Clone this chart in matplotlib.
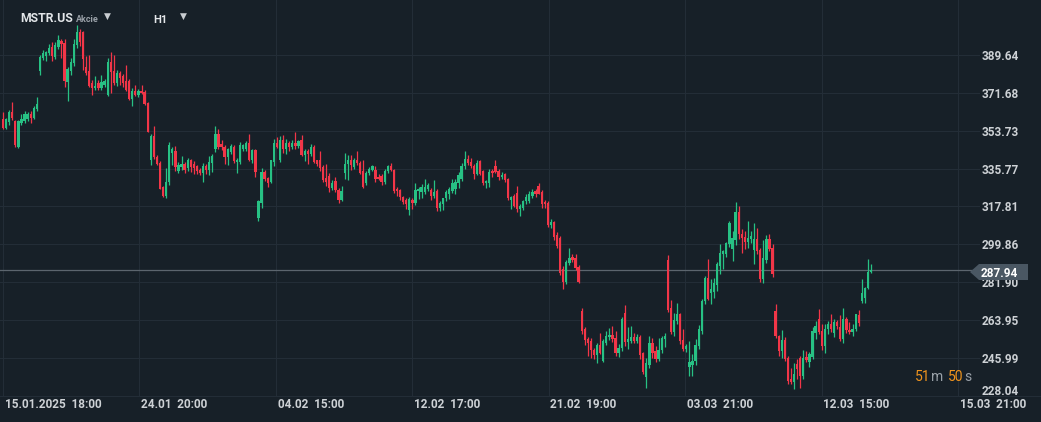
import numpy as np
import matplotlib
matplotlib.use('Agg')
import matplotlib.pyplot as plt
from matplotlib.patches import Polygon
from matplotlib.lines import Line2D

plt.rcParams['font.family'] = ['Roboto', 'DejaVu Sans']

# MSTR.US, H1 svicky (priblizne)
opens = [
    359.4, 355.1, 358.0, 362.7, 358.4, 345.8, 357.5, 358.4, 359.4, 361.7,
    359.9, 364.1, 382.1, 388.2, 389.2, 390.5, 393.3, 388.7, 393.3, 396.3,
    395.3, 376.9, 382.1, 385.8, 394.3, 400.5, 400.5, 384.0, 382.1, 376.4,
    374.0, 376.4, 374.0, 375.5, 370.7, 386.3, 382.1, 376.4, 381.1, 379.7,
    377.4, 377.4, 368.8, 372.6, 370.7, 372.6, 372.1, 367.0, 340.0, 351.0,
    341.4, 338.6, 326.8, 322.6, 329.2, 343.3, 344.3, 334.5, 336.3, 337.7,
    335.8, 339.6, 338.0, 336.8, 335.0, 333.5, 336.9, 335.3, 338.4, 344.8,
    352.3, 347.6, 346.2, 341.4, 343.8, 346.2, 339.0, 339.0, 345.0, 344.8,
    348.0, 340.0, 344.4, 312.5, 319.5, 334.0, 331.5, 329.3, 338.8, 348.0,
    340.0, 349.1, 344.8, 348.0, 346.0, 348.0, 346.5, 349.1, 342.3, 344.3,
    342.8, 346.2, 339.6, 339.6, 336.5, 331.2, 332.1, 326.6, 330.0, 325.8,
    321.1, 333.7, 337.8, 339.6, 336.6, 340.0, 338.6, 334.5, 329.0, 333.5,
    335.3, 335.3, 332.0, 332.1, 329.3, 334.5, 336.8, 335.0, 326.2, 325.7,
    322.1, 321.1, 315.9, 321.0, 319.6, 325.0, 324.8, 324.6, 326.0, 325.4,
    323.0, 325.0, 317.2, 318.8, 321.8, 323.8, 325.0, 326.3, 329.1, 331.0,
    336.8, 340.5, 339.0, 337.0, 333.4, 339.2, 334.5, 329.0, 329.0, 334.5,
    337.2, 334.8, 331.8, 333.0, 330.9, 320.8, 322.7, 324.0, 316.8, 317.2,
    320.3, 320.3, 323.0, 325.0, 327.7, 324.6, 320.0, 319.5, 309.0, 310.4,
    304.1, 303.0, 288.4, 282.0, 291.2, 293.8, 293.2, 289.3, 268.1, 259.7,
    255.0, 254.2, 250.0, 247.5, 252.1, 244.7, 253.1, 256.0, 257.0, 255.3,
    248.6, 251.0, 267.3, 253.7, 254.2, 256.0, 254.2, 256.1, 248.4, 237.2,
    242.8, 253.0, 249.5, 245.5, 249.7, 255.0, 292.3, 269.6, 258.2, 263.5,
    266.8, 254.5, 250.3, 241.6, 242.5, 244.7, 251.8, 258.9, 272.8, 284.1,
    277.0, 277.5, 280.5, 289.6, 295.5, 295.1, 299.9, 297.8, 301.8, 315.1,
    304.6, 303.5, 301.0, 302.5, 297.0, 302.5, 297.0, 283.3, 292.4, 302.2,
    298.3, 268.1, 256.5, 249.5, 254.5, 245.9, 236.2, 234.5, 243.0, 245.9,
    237.4, 246.5, 244.0, 246.6, 258.0, 264.4, 258.9, 251.8, 260.0, 262.0,
    258.1, 263.2, 260.9, 255.0, 264.4, 259.5, 258.5, 260.0, 266.3, 273.1,
    274.3, 279.0, 287.0,
]
highs = [
    362.7, 359.9, 363.5, 367.4, 359.0, 358.8, 361.5, 362.9, 362.5, 363.1,
    365.5, 369.6, 389.5, 392.0, 391.5, 394.6, 395.6, 395.5, 399.0, 397.3,
    397.0, 384.0, 388.0, 397.0, 403.8, 402.0, 401.0, 389.0, 389.6, 377.5,
    379.5, 377.5, 380.0, 378.0, 388.0, 391.0, 389.6, 382.5, 382.0, 380.5,
    385.0, 378.0, 374.0, 375.5, 373.5, 375.5, 373.0, 367.5, 352.0, 356.1,
    342.0, 339.5, 327.5, 335.8, 348.5, 346.0, 346.5, 339.0, 341.5, 339.0,
    341.0, 340.5, 339.5, 337.5, 336.0, 338.5, 338.0, 341.5, 342.5, 356.0,
    354.7, 349.5, 347.0, 345.5, 347.5, 347.0, 341.0, 348.5, 347.5, 349.0,
    352.3, 345.0, 345.0, 321.0, 336.0, 335.0, 332.0, 340.0, 350.0, 350.5,
    351.0, 351.5, 350.0, 349.0, 349.5, 353.1, 349.5, 351.8, 345.0, 345.0,
    347.5, 347.0, 340.0, 344.0, 337.5, 338.0, 333.5, 330.5, 332.0, 326.5,
    327.4, 343.2, 342.4, 342.4, 341.0, 344.0, 339.5, 340.0, 334.5, 336.5,
    337.5, 337.0, 333.0, 333.0, 335.5, 337.5, 338.5, 335.5, 327.0, 326.0,
    323.0, 322.0, 322.5, 322.0, 329.0, 327.0, 328.5, 330.6, 329.0, 326.5,
    330.2, 326.0, 320.5, 322.0, 325.5, 327.0, 331.0, 331.0, 334.0, 338.5,
    344.3, 342.0, 341.0, 338.0, 340.0, 340.0, 335.0, 330.5, 335.5, 335.5,
    339.6, 335.5, 334.0, 333.5, 331.5, 323.0, 323.5, 327.4, 319.0, 321.0,
    323.5, 325.0, 326.0, 326.0, 329.0, 325.5, 321.0, 320.5, 312.1, 311.0,
    305.5, 304.0, 289.5, 292.5, 298.0, 295.5, 295.1, 290.0, 269.6, 260.5,
    256.0, 255.5, 251.0, 253.0, 258.0, 255.0, 259.0, 260.2, 261.0, 258.9,
    252.5, 265.5, 271.0, 260.5, 261.0, 258.0, 257.5, 257.0, 249.0, 246.0,
    256.5, 255.5, 251.5, 255.4, 256.5, 257.7, 294.8, 273.5, 267.3, 272.0,
    267.5, 259.7, 252.5, 254.2, 247.9, 255.0, 261.6, 274.0, 285.0, 292.8,
    283.3, 284.0, 291.5, 299.9, 297.0, 301.0, 310.9, 306.0, 320.0, 318.0,
    307.0, 306.0, 311.0, 306.0, 309.8, 307.4, 298.0, 301.9, 304.3, 304.6,
    300.0, 271.5, 257.0, 259.2, 255.8, 247.0, 241.1, 243.6, 245.5, 247.0,
    249.8, 249.2, 249.0, 260.5, 263.5, 269.1, 262.0, 262.0, 263.6, 266.8,
    264.7, 264.0, 266.3, 269.9, 265.5, 263.1, 262.0, 267.0, 268.7, 283.3,
    279.5, 292.8, 290.5,
]
lows = [
    354.5, 354.6, 356.5, 358.9, 346.2, 345.5, 356.3, 357.5, 358.5, 357.2,
    359.2, 363.2, 379.9, 387.0, 386.5, 389.6, 386.6, 387.5, 392.3, 388.0,
    374.6, 367.6, 380.0, 384.2, 393.0, 394.0, 382.5, 380.0, 374.5, 370.7,
    373.0, 373.0, 373.0, 374.5, 370.3, 371.7, 375.5, 375.0, 375.5, 374.5,
    372.5, 368.0, 365.2, 370.0, 369.5, 371.0, 366.0, 353.0, 337.3, 340.5,
    337.5, 326.0, 322.3, 322.0, 328.0, 337.5, 334.5, 333.5, 335.0, 333.5,
    334.5, 334.0, 333.0, 333.0, 332.5, 329.5, 333.0, 332.5, 334.0, 343.5,
    345.0, 344.5, 337.7, 337.5, 342.5, 338.5, 333.7, 338.0, 344.0, 344.0,
    339.5, 338.5, 331.7, 310.9, 317.0, 330.0, 327.0, 329.0, 337.0, 345.5,
    339.0, 343.0, 342.5, 344.0, 345.0, 345.0, 345.5, 341.5, 339.5, 338.0,
    341.5, 338.5, 337.0, 334.5, 329.5, 327.5, 324.5, 325.5, 324.5, 319.5,
    320.5, 330.6, 330.5, 335.0, 335.5, 337.5, 333.0, 326.5, 328.0, 332.5,
    334.5, 329.5, 330.5, 328.0, 328.5, 333.5, 334.5, 324.0, 323.0, 321.0,
    319.0, 316.4, 313.6, 316.5, 318.5, 321.5, 322.0, 323.5, 325.0, 321.0,
    322.0, 315.5, 315.5, 316.0, 320.5, 321.5, 324.0, 323.5, 326.5, 330.0,
    335.5, 337.5, 336.0, 331.0, 332.5, 332.5, 328.0, 326.5, 327.0, 332.0,
    333.5, 330.5, 331.0, 329.5, 321.0, 316.5, 317.5, 315.0, 313.5, 316.0,
    319.0, 319.5, 322.0, 322.5, 323.5, 317.3, 317.0, 308.0, 307.5, 302.0,
    298.0, 285.5, 278.6, 281.0, 290.0, 291.5, 287.5, 281.5, 257.5, 252.0,
    247.1, 246.0, 245.5, 243.6, 248.0, 244.0, 252.0, 254.5, 253.5, 247.0,
    246.5, 249.5, 251.5, 250.5, 253.0, 253.0, 253.0, 245.5, 238.5, 231.8,
    241.5, 246.0, 244.0, 244.5, 248.5, 251.2, 268.0, 257.5, 256.5, 262.0,
    252.5, 249.5, 248.8, 237.4, 237.5, 242.5, 250.5, 257.5, 271.5, 273.5,
    271.5, 274.5, 278.0, 286.0, 288.0, 294.0, 298.5, 292.0, 299.5, 302.5,
    296.0, 297.5, 298.0, 300.5, 290.4, 295.5, 281.8, 281.5, 291.0, 296.5,
    284.5, 255.5, 247.1, 246.0, 244.5, 233.7, 233.5, 231.3, 236.0, 231.7,
    236.0, 244.0, 242.0, 245.5, 255.0, 257.5, 249.9, 248.2, 257.5, 258.5,
    256.0, 260.0, 254.0, 253.1, 258.0, 257.5, 256.5, 259.0, 261.0, 272.3,
    272.0, 278.5, 286.5,
]
closes = [
    355.1, 359.4, 362.7, 359.9, 347.1, 358.4, 359.4, 361.7, 361.7, 359.9,
    364.6, 366.5, 388.7, 390.5, 390.8, 392.9, 389.2, 394.3, 396.7, 394.8,
    377.4, 383.0, 386.3, 394.8, 400.5, 395.8, 387.7, 381.1, 375.0, 374.0,
    375.0, 374.0, 376.9, 377.0, 386.3, 381.6, 376.4, 381.1, 378.7, 376.4,
    373.1, 368.8, 372.6, 370.7, 372.6, 371.6, 366.5, 353.3, 351.0, 341.4,
    338.1, 326.3, 322.6, 329.6, 347.1, 344.8, 336.3, 337.3, 337.8, 335.3,
    339.6, 336.3, 335.8, 334.5, 333.5, 336.9, 335.3, 338.9, 341.6, 352.3,
    346.2, 345.8, 341.4, 344.8, 346.6, 339.2, 340.0, 346.8, 346.8, 348.0,
    340.0, 344.4, 334.0, 320.3, 334.0, 330.9, 328.8, 339.6, 348.0, 346.2,
    349.1, 344.8, 348.0, 346.0, 348.0, 346.5, 348.6, 342.3, 344.3, 342.8,
    346.0, 338.9, 338.1, 336.1, 330.2, 329.5, 326.6, 329.1, 325.5, 321.1,
    325.0, 338.1, 339.6, 337.3, 340.0, 338.5, 333.7, 327.0, 333.5, 335.5,
    336.8, 331.0, 331.0, 329.3, 334.5, 336.8, 335.3, 325.2, 325.2, 322.3,
    320.0, 318.8, 321.4, 319.6, 325.4, 326.0, 326.8, 327.0, 327.8, 323.0,
    324.5, 317.2, 319.6, 321.8, 324.8, 326.3, 328.8, 329.5, 332.5, 337.2,
    340.5, 338.5, 336.8, 333.4, 338.5, 333.4, 329.0, 330.0, 334.0, 333.5,
    334.0, 331.8, 332.5, 330.3, 321.6, 322.5, 318.0, 316.8, 318.0, 320.3,
    322.2, 323.5, 324.5, 323.5, 323.9, 318.8, 318.8, 309.0, 310.5, 303.3,
    299.1, 286.5, 282.1, 291.7, 293.2, 292.3, 288.5, 282.1, 258.6, 254.6,
    253.0, 249.8, 247.5, 252.1, 248.6, 254.2, 256.6, 257.0, 255.0, 248.4,
    251.0, 264.4, 253.7, 255.0, 256.0, 254.2, 256.0, 247.4, 239.2, 243.6,
    253.1, 248.6, 245.5, 250.0, 255.6, 256.6, 268.8, 258.2, 264.1, 267.0,
    254.2, 250.3, 251.5, 244.3, 244.5, 252.1, 259.7, 272.8, 284.1, 273.9,
    278.6, 281.6, 290.4, 295.6, 296.5, 300.3, 309.8, 303.0, 315.3, 304.6,
    302.7, 301.0, 303.0, 304.0, 302.5, 296.7, 283.3, 293.2, 302.2, 297.5,
    285.7, 256.3, 249.5, 254.5, 245.5, 235.3, 234.9, 238.4, 241.0, 237.4,
    245.9, 245.0, 247.9, 258.6, 261.3, 258.4, 251.8, 259.7, 262.0, 259.7,
    263.2, 261.1, 255.0, 264.4, 259.4, 258.5, 260.0, 266.8, 262.8, 276.7,
    279.1, 287.0, 287.94,
]

last_price = 287.94
y_ticks = [228.04, 245.99, 263.95, 281.90, 299.86, 317.81, 335.77, 353.73, 371.68, 389.64]
x_labels = ['15.01.2025  18:00', '24.01  20:00', '04.02  15:00', '12.02  17:00',
            '21.02  19:00', '03.03  21:00', '12.03  15:00', '15.03  21:00']
x_label_pos = [0, 44.3, 88.7, 133.0, 177.3, 221.7, 266.0, 310.3]

bg = '#172028'
grid_c = '#232d37'
up_c = '#27c184'
down_c = '#f23648'
txt_c = '#cdd1d5'

o = np.array(opens)
h = np.array(highs)
l = np.array(lows)
c = np.array(closes)
idx = np.arange(len(c))
up = c >= o
cols = np.where(up, up_c, down_c)

W, H = 1041, 422
fig = plt.figure(figsize=(W / 100, H / 100), dpi=100, facecolor=bg)
ax = fig.add_axes([0, 26 / H, 980 / W, 396 / H])
ax.set_facecolor(bg)

# svicky
ax.vlines(idx, l, h, colors=cols, lw=0.9, zorder=3)
body = np.maximum(np.abs(c - o), 0.3)
ax.bar(idx, body, bottom=np.minimum(o, c), width=0.74, color=cols, linewidth=0, zorder=4)

ax.set_xlim(-0.97, 317.4)
ax.set_ylim(228.5, 415.6)
ax.set_yticks(y_ticks)
ax.set_xticks(x_label_pos)
ax.grid(True, color=grid_c, lw=0.8)
ax.tick_params(length=0, labelleft=False, labelbottom=False)
for s in ax.spines.values():
    s.set_visible(False)

# popisky osy x
for p, lab in zip(x_label_pos, x_labels):
    ax.text(p + 0.5, -8 / 396, lab, transform=ax.get_xaxis_transform(),
            ha='left', va='center', color=txt_c, fontsize=8.5, fontweight='bold')

# popisky osy y
for v in y_ticks:
    yy = v + 2.9 if v == y_ticks[0] else v
    ax.text(1.002, yy, f'{v:.2f}', transform=ax.get_yaxis_transform(),
            ha='left', va='center_baseline', color=txt_c, fontsize=8.5,
            fontweight='bold', clip_on=False)

# aktualni cena
ax.axhline(last_price, color='#5c656e', lw=0.9, zorder=2)


def fx(px):
    return px / W


def fy(py):
    return 1 - py / H


box = Polygon([(fx(970), fy(272)), (fx(979), fy(264)), (fx(1028), fy(264)),
               (fx(1028), fy(280)), (fx(979), fy(280))],
              closed=True, transform=fig.transFigure, facecolor='#4a5763',
              edgecolor='none', zorder=10)
fig.patches.append(box)
fig.text(fx(981), fy(272), f'{last_price:.2f}', color='white', fontsize=8.5,
         fontweight='bold', ha='left', va='center_baseline', zorder=11)

fig.add_artist(Line2D([0, 1], [26 / H, 26 / H], transform=fig.transFigure,
                      color=grid_c, lw=0.8))

# hlavicka
fig.text(fx(20), fy(18), 'MSTR.US', color='#e3e6e9', fontsize=8.8,
         fontweight='bold', ha='left', va='center')
fig.text(fx(76), fy(19), 'Akcie', color='#9aa1a8', fontsize=6.5, fontweight='bold',
         ha='left', va='center')
fig.text(fx(107.5), fy(16.5), '▼', color='#c9cdd1', fontsize=6.5, ha='center', va='center',
         family='DejaVu Sans')
fig.text(fx(153), fy(20), 'H1', color='#e3e6e9', fontsize=8, fontweight='bold',
         ha='left', va='center')
fig.text(fx(183.5), fy(16.5), '▼', color='#c9cdd1', fontsize=6.5, ha='center', va='center',
         family='DejaVu Sans')

# odpocet do konce svicky
orange = '#f0941d'
fig.text(fx(915), fy(377), '51', color=orange, fontsize=10, ha='left', va='center')
fig.text(fx(931), fy(377), 'm', color='#9aa1a8', fontsize=10, ha='left', va='center')
fig.text(fx(948), fy(377), '50', color=orange, fontsize=10, ha='left', va='center')
fig.text(fx(964), fy(377), 's', color='#9aa1a8', fontsize=10, ha='left', va='center')

fig.savefig('out.png', dpi=100, facecolor=bg)
